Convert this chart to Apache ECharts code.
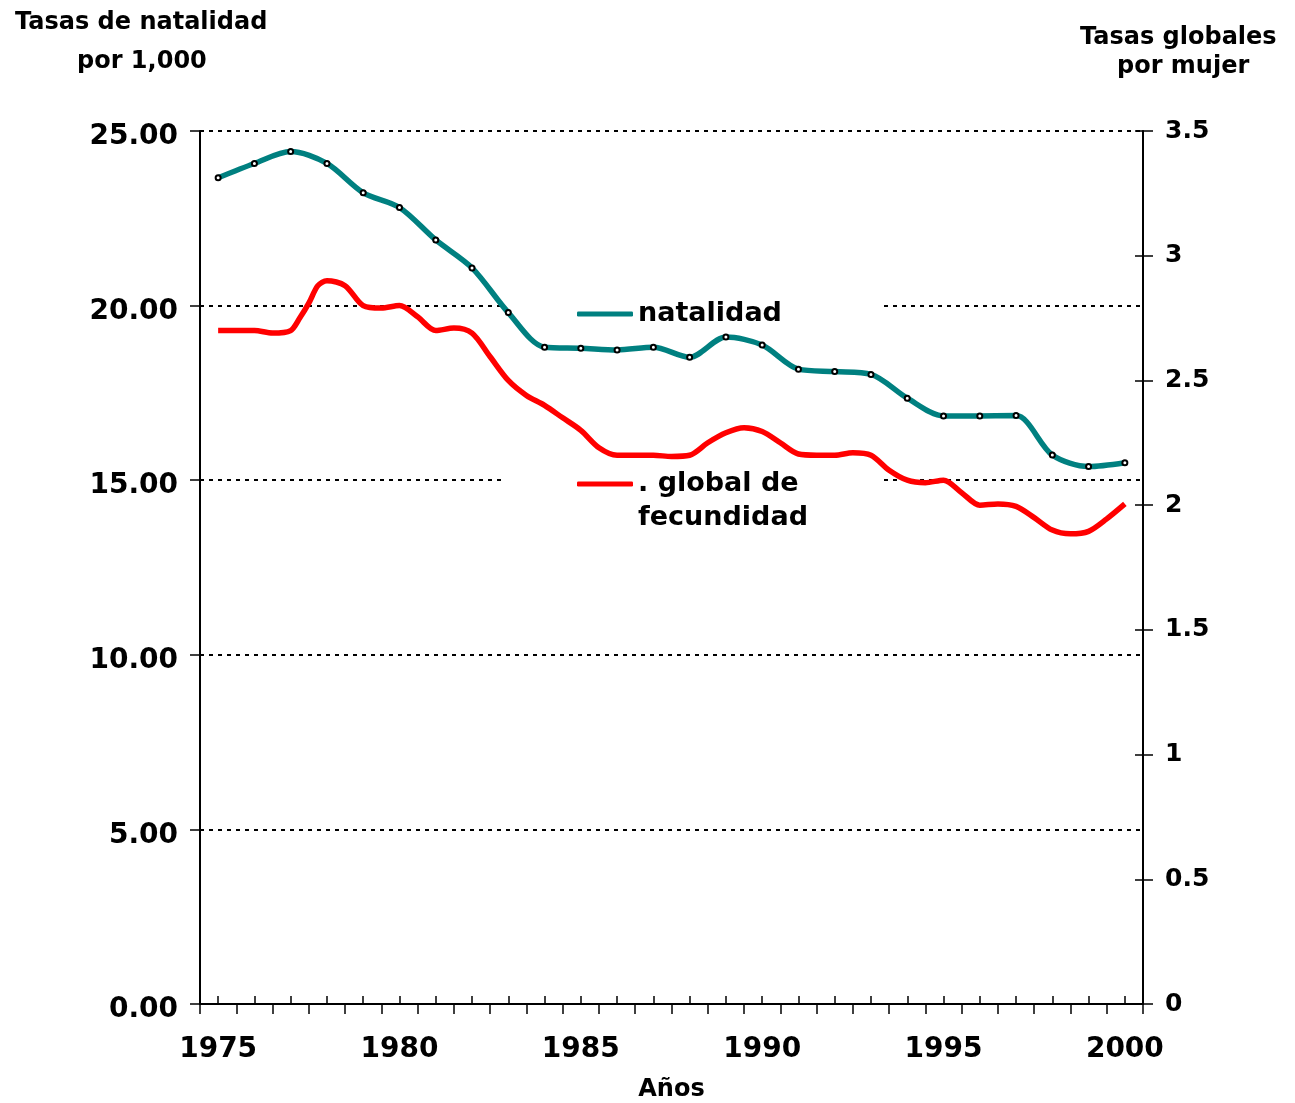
<!DOCTYPE html>
<html>
<head>
<meta charset="utf-8">
<script src="https://cdn.jsdelivr.net/npm/echarts@6/dist/echarts.min.js"></script>
<style>
  html, body { margin: 0; padding: 0; background: #fff; }
  #chart { width: 1295px; height: 1103px; }
</style>
</head>
<body>
<div id="chart"></div>
<script>
// ---- Data ----
const years = ['1975','1976','1977','1978','1979','1980','1981','1982','1983','1984','1985','1986','1987',
               '1988','1989','1990','1991','1992','1993','1994','1995','1996','1997','1998','1999','2000'];

// Tasa de natalidad por 1,000 (left axis), one value per year
const natalidadYears = [1975,1976,1977,1978,1979,1980,1981,1982,1983,1984,1985,1986,1987,
                        1988,1989,1990,1991,1992,1993,1994,1995,1996,1997,1998,1999,2000];
const natalidad = [23.66, 24.07, 24.41, 24.07, 23.23, 22.81, 21.88, 21.08, 19.80, 18.81, 18.78, 18.73, 18.81,
                   18.52, 19.10, 18.87, 18.18, 18.11, 18.03, 17.35, 16.84, 16.84, 16.85, 15.72, 15.39, 15.50];

// Tasa global de fecundidad por mujer (right axis), read at half-year resolution
const fecundidadX = [1975, 1975.5, 1976, 1976.5, 1977, 1977.25, 1977.5, 1977.75, 1978, 1978.5, 1979, 1979.5,
                     1980, 1980.5, 1981, 1981.5, 1982, 1982.5, 1983, 1983.5, 1984, 1984.5, 1985, 1985.5,
                     1986, 1986.5, 1987, 1987.5, 1988, 1988.5, 1989, 1989.5, 1990, 1990.5, 1991, 1991.5,
                     1992, 1992.5, 1993, 1993.5, 1994, 1994.5, 1995, 1995.5, 1996, 1996.5, 1997, 1997.5,
                     1998, 1998.5, 1999, 1999.5, 2000];
const fecundidad = [2.70, 2.70, 2.70, 2.69, 2.70, 2.75, 2.81, 2.88, 2.90, 2.88, 2.80, 2.79,
                    2.80, 2.755, 2.70, 2.71, 2.69, 2.595, 2.50, 2.44, 2.40, 2.35, 2.30, 2.23,
                    2.20, 2.20, 2.20, 2.195, 2.20, 2.25, 2.29, 2.31, 2.295, 2.25, 2.205, 2.20,
                    2.20, 2.21, 2.20, 2.14, 2.10, 2.09, 2.10, 2.05, 2.00, 2.005, 1.995, 1.95,
                    1.90, 1.885, 1.895, 1.945, 2.005];

const leftTicks = { min: 0, max: 25, interval: 5 };
const rightTicks = { min: 0, max: 3.5, interval: 0.5 };

const seriesNames = ['natalidad', '. global de\nfecundidad'];
const colors = { natalidad: '#008080', fecundidad: '#ff0000' };

// ---- Chart ----
const FONT = 'DejaVu Sans';
const chart = echarts.init(document.getElementById('chart'));

const titleStyle = { fontFamily: FONT, fontWeight: 'bold', fontSize: 24, color: '#000' };

chart.setOption({
  animation: false,
  backgroundColor: '#fff',
  title: [
    { text: 'Tasas de natalidad', left: 10, top: 6, textStyle: titleStyle },
    { text: 'por 1,000', left: 72, top: 45, textStyle: titleStyle },
    { text: 'Tasas globales', left: 1075, top: 21, textStyle: titleStyle },
    { text: 'por mujer', left: 1112, top: 50, textStyle: titleStyle }
  ],
  legend: {
    orient: 'vertical',
    left: 505,
    top: 281,
    z: 1,
    backgroundColor: '#fff',
    padding: [16, 74, 10, 72],
    itemWidth: 56,
    itemHeight: 5,
    itemGap: 102,
    icon: 'roundRect',
    formatter: name => (name === seriesNames[1] ? '\n' + name : name),
    textStyle: { fontFamily: FONT, fontWeight: 'bold', fontSize: 27, color: '#000', lineHeight: 34 },
    data: [
      { name: seriesNames[0], itemStyle: { color: colors.natalidad, borderWidth: 0 } },
      { name: seriesNames[1], itemStyle: { color: colors.fecundidad, borderWidth: 0 } }
    ]
  },
  grid: { left: 200, right: 152, top: 131, bottom: 99, outerBoundsMode: 'none', containLabel: false },
  xAxis: [
    {
      type: 'category',
      data: years,
      position: 'bottom',
      boundaryGap: true,
      axisLine: { show: true, onZero: false, lineStyle: { color: '#000', width: 2 } },
      axisTick: { show: true, interval: 0, length: 10, lineStyle: { color: '#000', width: 1.5 } },
      axisLabel: { interval: 4, margin: 32, fontFamily: FONT, fontWeight: 'bold', fontSize: 28, color: '#000' },
      splitLine: { show: false },
      name: 'Años',
      nameLocation: 'middle',
      nameGap: 74,
      nameTextStyle: { fontFamily: FONT, fontWeight: 'bold', fontSize: 24, color: '#000' }
    },
    {
      type: 'category',
      data: years,
      position: 'bottom',
      boundaryGap: true,
      axisLine: { show: false, onZero: false },
      axisTick: { show: true, inside: true, alignWithLabel: true, interval: 0, length: 8,
                  lineStyle: { color: '#000', width: 1.5 } },
      axisLabel: { show: false },
      splitLine: { show: false }
    },
    {
      type: 'value',
      show: false,
      min: 1974.5,
      max: 2000.5,
      position: 'bottom',
      axisLine: { onZero: false },
      splitLine: { show: false }
    }
  ],
  yAxis: [
    {
      type: 'value',
      position: 'left',
      min: leftTicks.min, max: leftTicks.max, interval: leftTicks.interval,
      axisLine: { show: true, onZero: false, lineStyle: { color: '#000', width: 2 } },
      axisTick: { show: true, length: 10, lineStyle: { color: '#000', width: 1.5 } },
      axisLabel: { margin: 22, fontFamily: FONT, fontWeight: 'bold', fontSize: 28, color: '#000',
                   verticalAlign: 'top', lineHeight: 12,
                   formatter: v => v.toFixed(2) },
      splitLine: { show: true, lineStyle: { color: '#000', width: 2, type: [4, 5] } }
    },
    {
      type: 'value',
      position: 'right',
      min: rightTicks.min, max: rightTicks.max, interval: rightTicks.interval,
      axisLine: { show: true, onZero: false, lineStyle: { color: '#000', width: 2 } },
      axisTick: { show: true, length: 10, lineStyle: { color: '#000', width: 1.5 } },
      axisLabel: { margin: 22, fontFamily: FONT, fontWeight: 'bold', fontSize: 25, color: '#000' },
      splitLine: { show: false }
    },
    {
      type: 'value',
      position: 'right',
      min: rightTicks.min, max: rightTicks.max, interval: rightTicks.interval,
      axisLine: { show: false, onZero: false },
      axisTick: { show: true, inside: true, length: 8, lineStyle: { color: '#000', width: 1.5 } },
      axisLabel: { show: false },
      splitLine: { show: false }
    }
  ],
  series: [
    {
      name: seriesNames[0],
      type: 'line',
      xAxisIndex: 2,
      yAxisIndex: 0,
      data: natalidadYears.map((y, i) => [y, natalidad[i]]),
      smooth: 0.3,
      symbol: 'emptyCircle',
      symbolSize: 5,
      showSymbol: true,
      itemStyle: { color: '#000', borderColor: '#000', borderWidth: 1.5 },
      lineStyle: { color: colors.natalidad, width: 5.5 },
      z: 3
    },
    {
      name: seriesNames[1],
      type: 'line',
      xAxisIndex: 2,
      yAxisIndex: 1,
      data: fecundidadX.map((x, i) => [x, fecundidad[i]]),
      smooth: 0.3,
      showSymbol: false,
      symbol: 'none',
      itemStyle: { color: colors.fecundidad },
      lineStyle: { color: colors.fecundidad, width: 5.5 },
      z: 2
    }
  ]
});
</script>
</body>
</html>
